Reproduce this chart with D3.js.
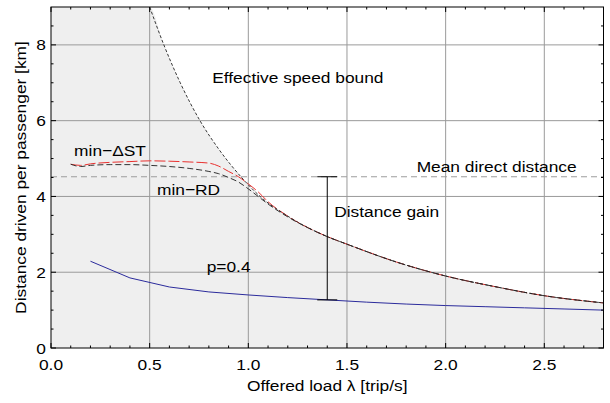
<!DOCTYPE html>
<html>
<head>
<meta charset="utf-8">
<script src="https://cdn.jsdelivr.net/npm/d3@7"></script>
<style>
  html, body { margin: 0; padding: 0; background: #fff; }
  svg { display: block; }
  text { font-family: "Liberation Sans", Arial, Helvetica, sans-serif; fill: #000; }
</style>
</head>
<body>
<script>
// Offered load (trip/s) samples and distance driven per passenger (km)
const boundLambda = [0.5, 0.572, 0.655, 0.755, 0.85, 0.966, 1.06, 1.2, 1.4, 1.5, 1.75, 2.0, 2.25, 2.5, 2.8];
const boundDist   = [9.0, 8.0, 7.0, 6.0, 5.25, 4.5, 4.0, 3.48, 2.94, 2.74, 2.27, 1.9, 1.62, 1.38, 1.19];

const stLambda = [0.1, 0.15, 0.2, 0.3, 0.4, 0.5, 0.6, 0.7, 0.8, 0.85, 0.9, 0.95, 1.0, 1.05, 1.1, 1.2, 1.4, 1.5, 1.75, 2.0, 2.25, 2.5, 2.8];
const minDeltaST = [4.85, 4.82, 4.86, 4.9, 4.92, 4.94, 4.93, 4.91, 4.88, 4.8, 4.66, 4.52, 4.33, 4.12, 3.86, 3.48, 2.94, 2.74, 2.27, 1.9, 1.62, 1.38, 1.19];

const rdLambda = [0.1, 0.15, 0.2, 0.3, 0.4, 0.5, 0.6, 0.7, 0.8, 0.85, 0.9, 0.95, 1.0, 1.05, 1.1, 1.2, 1.4, 1.5, 1.75, 2.0, 2.25, 2.5, 2.8];
const minRD = [4.85, 4.79, 4.82, 4.84, 4.84, 4.82, 4.79, 4.74, 4.66, 4.6, 4.5, 4.38, 4.2, 4.0, 3.8, 3.46, 2.94, 2.74, 2.27, 1.9, 1.62, 1.38, 1.19];

const pLambda = [0.2, 0.4, 0.6, 0.8, 1.0, 1.2, 1.4, 1.6, 1.8, 2.0, 2.2, 2.4, 2.6, 2.8];
const pShare04 = [2.29, 1.85, 1.61, 1.48, 1.4, 1.33, 1.27, 1.21, 1.16, 1.12, 1.09, 1.06, 1.03, 1.0];

const meanDirect = 4.52;
const gainLambda = 1.4;
const gainLow = 1.27;

const xTicks = [0, 0.5, 1.0, 1.5, 2.0, 2.5];
const yTicks = [0, 2, 4, 6, 8];

const W = 610, H = 403;
const X0 = 51, X1 = 603.5, Y0 = 348, Y1 = 7;
const STRETCH = 1.12;
const FS = 15.5;

const svg = d3.select("body").append("svg").attr("width", W).attr("height", H);

const x = d3.scaleLinear().domain([0, 2.8]).range([X0, X1]);
const y = d3.scaleLinear().domain([0, 9]).range([Y0, Y1]);

// text helper: horizontally widened glyphs
function label(parent, px, py, str, anchor, baseline, rot) {
  const g = parent.append("g")
    .attr("transform", `translate(${px},${py})` + (rot ? ` rotate(${rot})` : "") + ` scale(${STRETCH},1)`);
  const t = g.append("text")
    .attr("font-size", FS)
    .attr("text-anchor", anchor || "start")
    .text(str);
  if (baseline) t.attr("dominant-baseline", baseline);
  return t;
}

svg.append("defs").append("clipPath").attr("id", "plotClip")
  .append("rect").attr("x", X0).attr("y", Y1).attr("width", X1 - X0).attr("height", Y0 - Y1);

const plot = svg.append("g").attr("clip-path", "url(#plotClip)");

// feasible region below the effective speed bound
const fillPts = [[0, y.domain()[1]]].concat(boundLambda.map((l, i) => [l, boundDist[i]]));
plot.append("path")
  .datum(fillPts)
  .attr("fill", "#efefef")
  .attr("d", d3.area().x(d => x(d[0])).y0(y(0)).y1(d => y(d[1])).curve(d3.curveMonotoneX));

// grid
plot.append("g").selectAll("line").data(xTicks.filter(v => v > 0)).join("line")
  .attr("x1", d => x(d)).attr("x2", d => x(d)).attr("y1", Y1).attr("y2", Y0)
  .attr("stroke", "#9a9a9a").attr("stroke-width", 1);
plot.append("g").selectAll("line").data(yTicks.filter(v => v > 0)).join("line")
  .attr("y1", d => y(d)).attr("y2", d => y(d)).attr("x1", X0).attr("x2", X1)
  .attr("stroke", "#9a9a9a").attr("stroke-width", 1);

// mean direct distance
plot.append("line")
  .attr("x1", X0).attr("x2", X1).attr("y1", y(meanDirect)).attr("y2", y(meanDirect))
  .attr("stroke", "#9d9d9d").attr("stroke-width", 1.2).attr("stroke-dasharray", "6,4");

const line = d3.line().x(d => x(d[0])).y(d => y(d[1])).curve(d3.curveMonotoneX);
const pairs = (a, b) => a.map((v, i) => [v, b[i]]);

// p = 0.4
plot.append("path").datum(pairs(pLambda, pShare04))
  .attr("fill", "none").attr("stroke", "#2b2b9c").attr("stroke-width", 1)
  .attr("d", d3.line().x(d => x(d[0])).y(d => y(d[1])));

// min-ΔST
plot.append("path").datum(pairs(stLambda, minDeltaST))
  .attr("fill", "none").attr("stroke", "#e8302e").attr("stroke-width", 1)
  .attr("stroke-dasharray", "11,3").attr("d", line);

// min-RD
plot.append("path").datum(pairs(rdLambda, minRD))
  .attr("fill", "none").attr("stroke", "#333").attr("stroke-width", 1)
  .attr("stroke-dasharray", "6,3").attr("d", line);

// effective speed bound
plot.append("path").datum(pairs(boundLambda, boundDist))
  .attr("fill", "none").attr("stroke", "#222").attr("stroke-width", 0.9)
  .attr("stroke-dasharray", "3,2").attr("d", line);

// distance gain bar
const gx = x(gainLambda);
const gain = svg.append("g").attr("stroke", "#000").attr("stroke-width", 1);
gain.append("line").attr("x1", gx).attr("x2", gx).attr("y1", y(meanDirect)).attr("y2", y(gainLow));
gain.append("line").attr("x1", gx - 10).attr("x2", gx + 10).attr("y1", y(meanDirect)).attr("y2", y(meanDirect));
gain.append("line").attr("x1", gx - 10).attr("x2", gx + 10).attr("y1", y(gainLow)).attr("y2", y(gainLow));

// frame and inward ticks
svg.append("rect").attr("x", X0).attr("y", Y1).attr("width", X1 - X0).attr("height", Y0 - Y1)
  .attr("fill", "none").attr("stroke", "#000").attr("stroke-width", 1);

const ticks = svg.append("g").attr("stroke", "#000").attr("stroke-width", 1);
const xMinor = d3.range(1, 28).map(i => i / 10).filter(v => Math.abs(v * 2 - Math.round(v * 2)) > 1e-6);
const yMinor = d3.range(1, 18).map(i => i / 2).filter(v => v % 2 !== 0);
xTicks.forEach(v => {
  ticks.append("line").attr("x1", x(v)).attr("x2", x(v)).attr("y1", Y0).attr("y2", Y0 - 5);
  ticks.append("line").attr("x1", x(v)).attr("x2", x(v)).attr("y1", Y1).attr("y2", Y1 + 5);
});
xMinor.forEach(v => {
  ticks.append("line").attr("x1", x(v)).attr("x2", x(v)).attr("y1", Y0).attr("y2", Y0 - 2.5);
  ticks.append("line").attr("x1", x(v)).attr("x2", x(v)).attr("y1", Y1).attr("y2", Y1 + 2.5);
});
yTicks.forEach(v => {
  ticks.append("line").attr("y1", y(v)).attr("y2", y(v)).attr("x1", X0).attr("x2", X0 + 5);
  ticks.append("line").attr("y1", y(v)).attr("y2", y(v)).attr("x1", X1).attr("x2", X1 - 5);
});
yMinor.forEach(v => {
  ticks.append("line").attr("y1", y(v)).attr("y2", y(v)).attr("x1", X0).attr("x2", X0 + 2.5);
  ticks.append("line").attr("y1", y(v)).attr("y2", y(v)).attr("x1", X1).attr("x2", X1 - 2.5);
});

// tick labels
const fmtX = d3.format(".1f");
xTicks.forEach(v => label(svg, x(v), 369.5, fmtX(v), "middle"));
yTicks.forEach(v => label(svg, X0 - 5, y(v) + 5.5, String(v), "end"));

// axis titles
label(svg, (X0 + X1) / 2, 391, "Offered load \u03bb [trip/s]", "middle");
label(svg, 26, (Y0 + Y1) / 2, "Distance driven per passenger [km]", "middle", null, -90);

// annotations
label(svg, x(0.817), y(6.99), "Effective speed bound", "start");
label(svg, x(1.853), y(4.65), "Mean direct distance", "start");
label(svg, x(0.117), y(5.07), "min\u2212\u0394ST", "start");
label(svg, x(0.537), y(4.04), "min\u2212RD", "start");
label(svg, x(1.435), y(3.45), "Distance gain", "start");
label(svg, x(0.789), y(2.01), "p=0.4", "start");
</script>
</body>
</html>
